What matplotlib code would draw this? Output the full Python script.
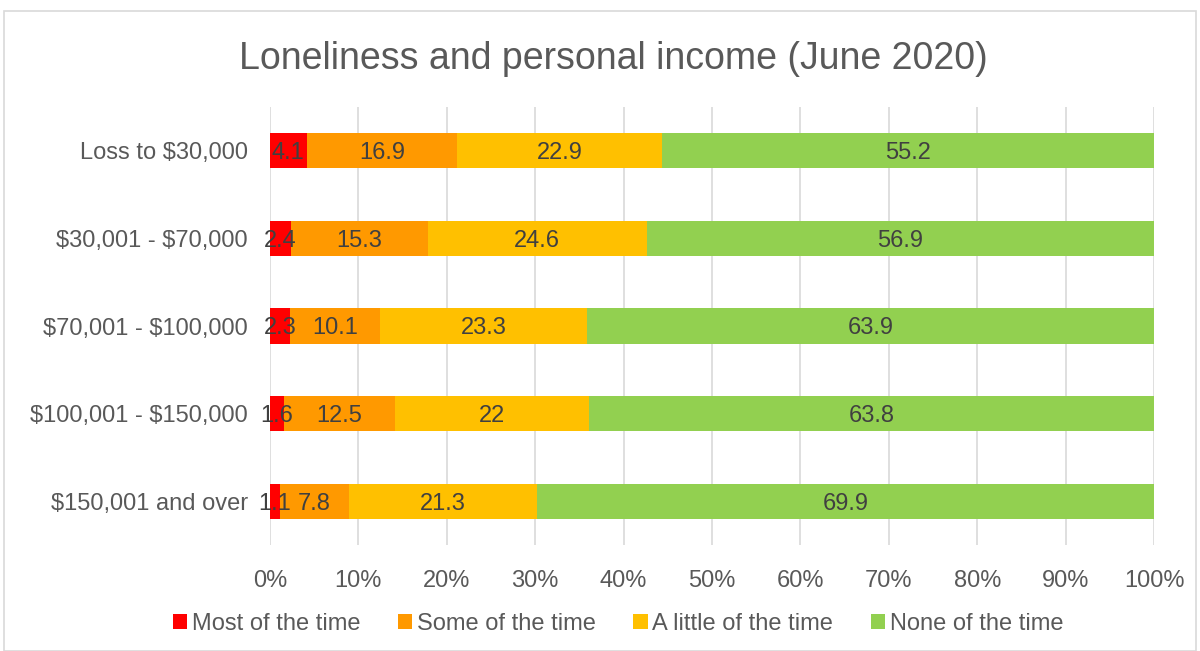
import numpy as np
import matplotlib.pyplot as plt
from matplotlib.patches import Rectangle

plt.rcParams['font.family'] = ['Liberation Sans', 'DejaVu Sans']

# data
categories = ['Loss to \\$30,000', '\\$30,001 - \\$70,000', '\\$70,001 - \\$100,000',
              '\\$100,001 - \\$150,000', '\\$150,001 and over']
series_names = ['Most of the time', 'Some of the time', 'A little of the time', 'None of the time']
most = [4.1, 2.4, 2.3, 1.6, 1.1]
some = [16.9, 15.3, 10.1, 12.5, 7.8]
little = [22.9, 24.6, 23.3, 22, 21.3]
none = [55.2, 56.9, 63.9, 63.8, 69.9]
colors = ['#FF0000', '#FF9900', '#FFC000', '#92D050']

values = np.array([most, some, little, none])
totals = values.sum(axis=0)
shares = values / totals * 100

fig = plt.figure(figsize=(12, 6.51), dpi=100)
fig.patches.append(Rectangle((4/1200, 0), 1 - 8/1200, 1 - 11/651, transform=fig.transFigure,
                             fill=False, edgecolor='#D9D9D9', linewidth=1.2))
ax = fig.add_axes([270/1200, 1 - 545/651, 884/1200, 438/651])

y = np.arange(len(categories))
left = np.zeros(len(categories))
for i in range(4):
    ax.barh(y, shares[i], left=left, height=0.4, color=colors[i], label=series_names[i], zorder=3)
    for j in range(len(categories)):
        lab = ('%g' % values[i][j])
        ax.text(left[j] + shares[i][j] / 2, y[j], lab, ha='center', va='center_baseline',
                fontsize=17, color='#404040', zorder=4)
    left += shares[i]

ax.set_ylim(4.5, -0.5)
ax.set_xlim(0, 100)
ax.set_yticks(y)
ax.set_yticklabels(categories)
ax.set_xticks(np.arange(0, 101, 10))
ax.set_xticklabels(['%d%%' % v for v in range(0, 101, 10)])
ax.tick_params(axis='both', length=0, labelsize=17, colors='#595959')
ax.tick_params(axis='y', pad=16)
ax.tick_params(axis='x', pad=18)
ax.grid(axis='x', color='#D9D9D9', linewidth=1.2, zorder=0)
for s in ax.spines.values():
    s.set_visible(False)

fig.text(0.511, 1 - 59/651, 'Loneliness and personal income (June 2020)', ha='center', va='center',
         fontsize=27, color='#595959')

fig.legend(loc='center', bbox_to_anchor=(0.515, 1 - 624/651), ncol=4, frameon=False,
           fontsize=17, labelcolor='#595959', handlelength=0.6, handleheight=0.6,
           handletextpad=0.2, columnspacing=1.6)

fig.savefig('out.png', dpi=100)
